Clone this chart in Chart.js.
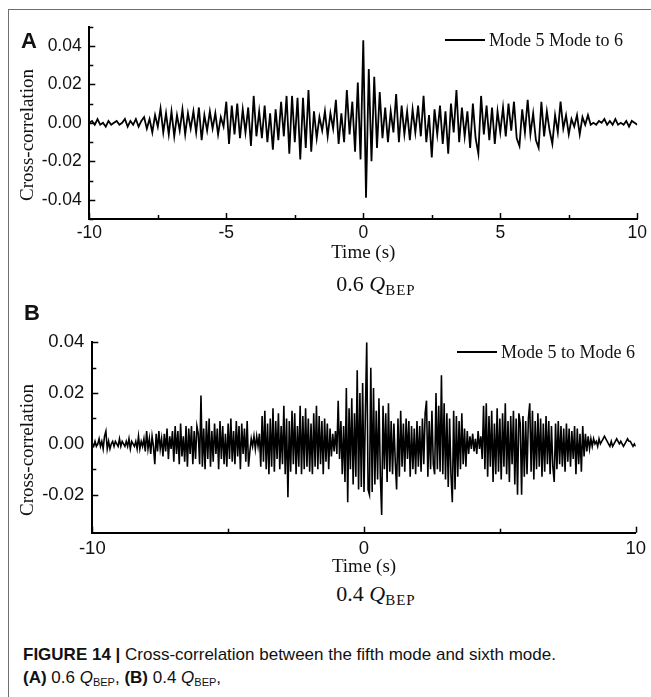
<!DOCTYPE html>
<html>
<head>
<meta charset="utf-8">
<script src="https://cdn.jsdelivr.net/npm/chart.js@4.4.1/dist/chart.umd.min.js"></script>
<style>
  body { margin: 0; background: #fff; }
  #page { position: relative; width: 651px; height: 697px; overflow: hidden; background: #fff; }
  #frame { position: absolute; left: 8px; top: 9px; right: -5px; bottom: -5px;
           border-top: 1.5px solid #6f6f6f; border-left: 1.5px solid #6f6f6f; }
  canvas { position: absolute; left: 0; }
  .serif { font-family: "Liberation Serif", "Times New Roman", serif; color: #111; }
  .sans { font-family: "Liberation Sans", Arial, sans-serif; color: #111; }
  .abs { position: absolute; white-space: nowrap; }
  .panel { font-weight: bold; font-size: 22px; line-height: 22px; }
  .ytitle { font-size: 19px; transform: translate(-50%, -50%) rotate(-90deg); }
  .legline { position: absolute; height: 2px; background: #000; }
  .legtext { font-size: 18px; line-height: 20px; }
  .sub { font-size: 22px; line-height: 24px; transform: translateX(-50%); }
  .sub sub { font-size: 15px; letter-spacing: 1px; vertical-align: -4px; }
  .caption { font-size: 17px; line-height: 23px; }
  .caption sub { font-size: 11px; vertical-align: -3px; }
</style>
</head>
<body>
<div id="page">
  <div id="frame"></div>

  <canvas id="chartA" width="651" height="270" style="top:0"></canvas>
  <canvas id="chartB" width="651" height="290" style="top:290px"></canvas>

  <div class="abs sans panel" style="left:21px; top:30px">A</div>
  <div class="abs sans panel" style="left:24px; top:302px">B</div>

  <div class="abs serif ytitle" style="left:27px; top:135px">Cross-correlation</div>
  <div class="abs serif ytitle" style="left:27px; top:450px">Cross-correlation</div>

  <div class="legline" style="left:445px; width:40px; top:39px"></div>
  <div class="abs serif legtext" style="left:489px; top:30px">Mode 5 Mode to 6</div>
  <div class="legline" style="left:457px; width:40px; top:351px"></div>
  <div class="abs serif legtext" style="left:501px; top:342px">Mode 5 to Mode 6</div>

  <div class="abs serif sub" style="left:376px; top:272px">0.6 <i>Q</i><sub>BEP</sub></div>
  <div class="abs serif sub" style="left:376px; top:582px">0.4 <i>Q</i><sub>BEP</sub></div>

  <div class="abs sans caption" style="left:23px; top:643px">
    <b>FIGURE 14 |</b> Cross-correlation between the fifth mode and sixth mode.<br>
    <b>(A)</b> 0.6 <i>Q</i><sub>BEP</sub>, <b>(B)</b> 0.4 <i>Q</i><sub>BEP</sub>,
  </div>
</div>

<script>
// values are read off the figure, in units of 1e-3 (axis shows them as 0.0x)
// panel A: one sample every 0.1 s from -10 s to 10 s
const startA = -10;
const stepA = 0.1;
const corrA = [
  0, 1, -1, 2, -1, 0, -2, 1, -1, 0,
  1, -1, 0, 2, -2, 1, -1, 2, -2, 1,
  3, -3, 2, -5, 4, -2, 7.5, -5, 5, -6,
  6, -7, 4, -4, 7, -6, 5, -3, 6, -5,
  8, -9, 4, -4, 6, -3, 5, -6, 3, -2,
  11, -11, 9, -6, 10, -8, 7, -5, 8, -12,
  14, -7, 6, -8, 9, -10, 5, -14, 7, -9,
  11, -7, 14, -16, 14, -10, 13, -19, 13, -13,
  17, -15, 6, -8, 3, -4, 6, -7, 5, -3,
  12, -11, 5, -10, 17, -6, 11, -15, 21, -19,
  43, -39, 28, -20, 24, -13, 16, -8, 8, -10,
  6, -5, 15, -10, 9, -6, 6, -9, 7, -5,
  9, -7, 14, -10, 4, -18, 7, -6, 9, -11,
  6, -16, 10, -5, 17, -10, 8, -7, 6, -13,
  10, -8, -16, 14, -6, 9, -9, 8, -11, 6,
  -5, 8, -7, 10, -4, 11, -8, -12, 7, -5,
  12, -6, 5, -9, -13, 11, -7, 6, -4, -11,
  4, -5, 11, -3, 4, -6, 2, -2, 4, -6,
  3, -1, 4, -1, 0, -1, 1, 0, 2, -1,
  1, -1, 2, -1, 0, -1, 1, -2, 1, 0,
  -1
];

// panel B: one sample every 0.05 s from -10 s to 10 s
const startB = -10;
const stepB = 0.05;
const corrB = [
  0, -1, 1, -1, 0, 2, -1, 1, -2, 3, 5, -2, 1, -2, 0, 1, -1, 1, 0, -1,
  2, -1, 1, 0, -1, 1, -1, 2, -2, 1, 0, -1, 1, -2, 3, -2, 1, -1, 2, -3,
  5, -2, 2, -4, 3, -1, -8, 4, -3, 5, -2, 2, -5, 4, -3, 6, -6, 3, -2, 5,
  -7, 7, -4, 5, -8, 8, -5, 3, -7, 7, -9, 6, -4, 7, -8, 5, -6, 7, 4, -8,
  19, -9, 6, -10, 9, -6, 10, -9, 5, -7, 8, -4, 6, -10, 9, -6, 7, -8, 4, -9,
  8, -6, 10, -7, 5, -8, 9, -5, 7, -10, 8, -4, 6, -7, 9, -9, -3, 2, -1, 3,
  -2, 3, -1, 4, -9, 11, -7, 13, -10, 8, -12, 10, -9, 14, -11, 9, -6, 12, -10, 7,
  -8, 15, -12, 10, -21, 9, -11, 13, -8, 12, -12, 7, -9, 15, -12, 11, -10, 14, -9, 10,
  -11, 8, -12, 12, -9, 15, -10, 11, -8, 9, -12, 10, -7, 8, -10, 6, -5, 4, -3, 5,
  -4, 17, -6, 9, -12, 7, -15, 22, -23, 14, -10, 18, -16, 12, -13, 29, -18, 20, -17, 24,
  -19, 12, 40, -18, -20, 30, -19, 22, -16, 13, -14, 18, -12, -28, 15, -10, 12, -15, 16, -11,
  9, -12, 8, -7, -18, 10, -13, 13, -9, 8, -11, 10, -6, 9, -13, 7, -10, 6, -12, 9,
  -9, 7, -11, 10, -8, 12, 17, -13, 9, -10, 13, -8, -12, 20, -10, 15, -11, 27, -12, 16,
  -14, 12, -17, 10, -12, -23, 13, -18, 11, -13, 9, -10, 12, -8, 6, -9, 5, -4, 3, -2,
  4, -3, 2, -4, 5, -2, 3, -6, 15, -10, 16, -13, 11, -9, 13, -15, 8, -12, 14, -11,
  10, -14, 12, -9, 16, -12, 9, -15, 11, -8, 13, -16, 10, -20, 12, 8, -20, 11, -13, 9,
  -12, 10, 16, -11, 13, -14, 9, -10, 12, -9, 10, -13, 8, -11, 11, -8, 9, -12, 7, -9,
  -15, 8, -10, 9, -8, 7, -9, 6, -11, 8, -7, 6, -9, 5, -6, 7, -12, 6, -8, 4,
  -11, 7, -5, 4, -3, 3, -2, 2, -1, 2, 0, 1, -1, 2, 0, 1, 2, 3, 2, 1,
  0, -1, 1, -1, 0, 1, 2, 1, 0, 1, 0, -1, 0, 1, 2, 1, 1, 0, -1, 0,
  -1
];

// labelled ticks (y in 1e-3 units)
const xLabelsA = [-10, -5, 0, 5, 10];
const yLabelsA = [-40, -20, 0, 20, 40];
const xLabelsB = [-10, 0, 10];
const yLabelsB = [-20, 0, 20, 40];

function toPoints(start, step, values) {
  return values.map((v, i) => ({ x: start + i * step, y: v }));
}

// ticks in the original point inward, majors a bit longer
const innerTicks = {
  id: 'innerTicks',
  afterDraw(chart) {
    const { ctx, chartArea, scales } = chart;
    ctx.save();
    ctx.strokeStyle = '#000';
    ctx.lineWidth = 1.5;
    scales.y.ticks.forEach(t => {
      if (Math.round(t.value) % 10 !== 0) return;
      const y = Math.round(scales.y.getPixelForValue(t.value)) + 0.5;
      const len = t.label !== '' ? 6 : 4;
      ctx.beginPath();
      ctx.moveTo(chartArea.left, y);
      ctx.lineTo(chartArea.left + len, y);
      ctx.stroke();
    });
    scales.x.ticks.forEach(t => {
      const x = Math.round(scales.x.getPixelForValue(t.value)) + 0.5;
      const len = t.label !== '' ? 6 : 4;
      ctx.beginPath();
      ctx.moveTo(x, chartArea.bottom);
      ctx.lineTo(x, chartArea.bottom - len);
      ctx.stroke();
    });
    ctx.restore();
  }
};

function makeChart(id, cfg) {
  return new Chart(document.getElementById(id), {
    type: 'line',
    data: {
      datasets: [{
        data: toPoints(cfg.start, cfg.step, cfg.values),
        borderColor: '#000',
        borderWidth: cfg.lineWidth,
        pointRadius: 0,
        tension: 0
      }]
    },
    options: {
      responsive: false,
      animation: false,
      devicePixelRatio: 1,
      layout: { padding: cfg.padding },
      plugins: { legend: { display: false }, tooltip: { enabled: false } },
      scales: {
        x: {
          type: 'linear',
          min: -10,
          max: 10,
          afterFit: s => { s.height = cfg.xHeight; },
          grid: { display: true, drawOnChartArea: false, drawTicks: false },
          border: { display: true, color: '#000', width: 2 },
          ticks: {
            stepSize: cfg.xStep,
            autoSkip: false,
            maxRotation: 0,
            padding: cfg.xPad,
            color: '#111',
            font: { family: 'Liberation Sans', size: cfg.tickSize },
            callback: v => cfg.xLabels.includes(v) ? String(v) : ''
          },
          title: {
            display: true,
            text: 'Time (s)',
            color: '#111',
            padding: { top: 0, bottom: cfg.titlePad },
            font: { family: 'Liberation Serif', size: 19 }
          }
        },
        y: {
          min: cfg.yMin,
          max: cfg.yMax,
          afterFit: s => { s.width = cfg.yWidth; },
          grid: { display: true, drawOnChartArea: false, drawTicks: false },
          border: { display: true, color: '#000', width: 2 },
          ticks: {
            stepSize: 10,
            autoSkip: false,
            padding: cfg.yPad,
            color: '#111',
            font: { family: 'Liberation Sans', size: cfg.tickSize },
            callback: v => cfg.yLabels.includes(v) ? (v / 1000).toFixed(2) : ''
          }
        }
      }
    },
    plugins: [innerTicks]
  });
}

makeChart('chartA', {
  start: startA, step: stepA, values: corrA, lineWidth: 1.8,
  xLabels: xLabelsA, yLabels: yLabelsA, xStep: 2.5,
  yMin: -50, yMax: 50,
  padding: { left: 12, right: 12.7, top: 26.7, bottom: 0 },
  xHeight: 51, yWidth: 77.3, xPad: 4, yPad: 7.6, titlePad: 5.6, tickSize: 17.5
});

makeChart('chartB', {
  start: startB, step: stepB, values: corrB, lineWidth: 1.6,
  xLabels: xLabelsB, yLabels: yLabelsB, xStep: 5,
  yMin: -35, yMax: 40,
  padding: { left: 12, right: 12.7, top: 52.3, bottom: 0 },
  xHeight: 47.3, yWidth: 80.3, xPad: 5, yPad: 8, titlePad: 1.9, tickSize: 18.5
});
</script>
</body>
</html>
